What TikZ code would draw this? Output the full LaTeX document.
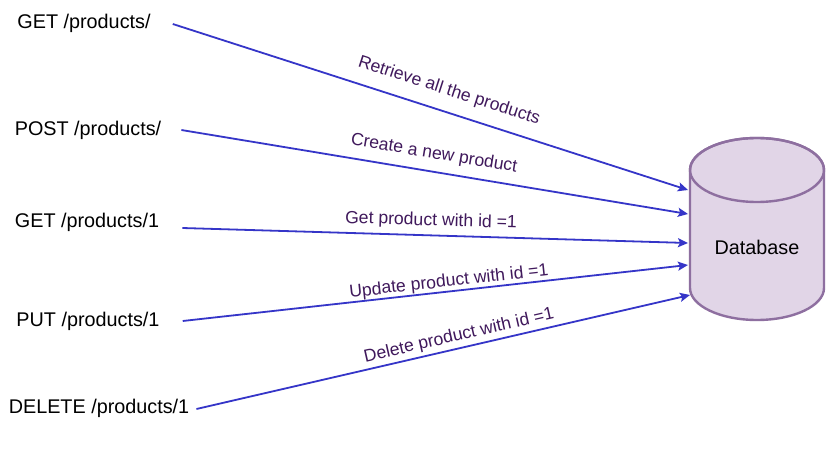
\documentclass[tikz,border=0pt]{standalone}
\usepackage{fontspec}
\setmainfont{Liberation Sans}
\usetikzlibrary{arrows.meta}
\definecolor{arrblue}{HTML}{3535C8}
\definecolor{lblpurple}{HTML}{40195C}
\definecolor{dbfill}{HTML}{E1D5E7}
\definecolor{dbdraw}{HTML}{8E6FA0}
\tikzset{
  req/.style={inner sep=0pt, font=\fontsize{19.8}{24}\selectfont, text=black},
  lbl/.style={inner sep=0pt, font=\fontsize{17.6}{21}\selectfont, text=lblpurple},
  arr/.style={draw=arrblue, line width=1.8pt, -{Stealth[length=10pt,width=9pt,inset=2pt]}},
}
\begin{document}
\begin{tikzpicture}[x=1pt,y=1pt]
\useasboundingbox[fill=white] (0,0) rectangle (831,472);
% database cylinder
\path[fill=dbfill, draw=dbdraw, line width=2.4pt]
  (690,302) -- (690,184) arc[start angle=180, end angle=360, x radius=67, y radius=32]
  -- (824,302) arc[start angle=0, end angle=180, x radius=67, y radius=32] -- cycle;
\draw[dbdraw, line width=2.4pt] (757,302) ellipse[x radius=67, y radius=32];
\node[req] (db) at (757,225) {Database};
\coordinate (t1) at (688,282);
\coordinate (t2) at (688,258);
\coordinate (t3) at (688,229);
\coordinate (t4) at (688,207);
\coordinate (t5) at (690,177);
% requests
\node[req] (r1) at (84,449) {GET /products/};
\node[req] (r2) at (88,342) {POST /products/};
\node[req] (r3) at (87,250) {GET /products/1};
\node[req] (r4) at (88,151) {PUT /products/1};
\node[req] (r5) at (99,64) {DELETE /products/1};
% connectors
\draw[arr] ([xshift=22pt,yshift=-1pt]r1.east) -- (t1);
\draw[arr] ([xshift=20pt]r2.east) -- (t2);
\draw[arr] ([xshift=23pt,yshift=-6pt]r3.east) -- (t3);
\draw[arr] ([xshift=23pt]r4.east) -- (t4);
\draw[arr] ([xshift=7pt,yshift=-1pt]r5.east) -- (t5);
% labels
\node[lbl, rotate=-17.8] (l1) at (449,381) {Retrieve all the products};
\node[lbl, rotate=-9.4] (l2) at (434,318) {Create a new product};
\node[lbl, rotate=-1.7] (l3) at (431,251) {Get product with id =1};
\node[lbl, rotate=6.3] (l4) at (449,190) {Update product with id =1};
\node[lbl, rotate=12.9] (l5) at (459,136) {Delete product with id =1};
\end{tikzpicture}
\end{document}
